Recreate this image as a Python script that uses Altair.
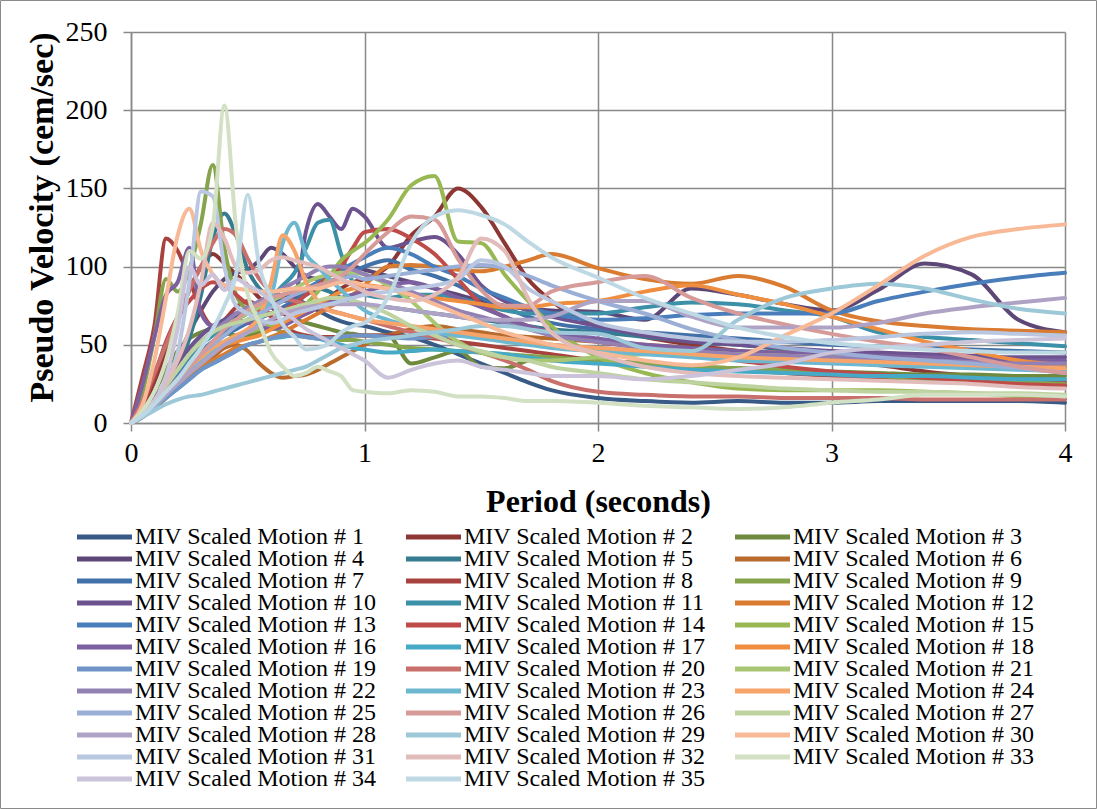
import altair as alt
import pandas as pd

# Spectral period grid (seconds) shared by every motion record
PERIODS = [0, .05, .1, .15, .2, .25, .3, .35, .4, .45,
           .5, .55, .6, .65, .7, .75, .8, .85, .9, .95,
           1.0, 1.1, 1.2, 1.3, 1.4, 1.5, 1.6, 1.7, 1.8, 2.0,
           2.2, 2.4, 2.6, 2.8, 3.0, 3.2, 3.4, 3.6, 3.8, 4.0]

# Pseudo velocity (cm/sec) of each scaled motion at the periods above
M01 = [0, 7, 16, 26, 36, 44, 52, 58, 63, 68, 72, 76, 80, 82, 80, 76, 72, 68, 65, 63,
       62, 58, 55, 50, 44, 38, 32, 26, 21, 16, 14, 13, 14, 13, 13, 14, 14, 14, 14, 13]
M02 = [0, 10, 26, 45, 65, 85, 100, 108, 102, 95, 88, 80, 74, 70, 68, 70, 74, 80, 86, 90,
       92, 100, 120, 132, 150, 138, 115, 92, 78, 62, 55, 50, 46, 43, 40, 37, 33, 30, 27, 24]
M03 = [0, 8, 20, 34, 46, 54, 58, 60, 58, 56, 56, 58, 62, 64, 66, 64, 62, 60, 58, 57,
       56, 56, 38, 42, 46, 36, 35, 40, 42, 40, 38, 36, 35, 34, 33, 32, 31, 31, 30, 30]
M04 = [0, 6, 14, 26, 42, 58, 72, 84, 92, 96, 98, 104, 112, 108, 100, 94, 92, 95, 98, 100,
       98, 94, 90, 86, 82, 78, 75, 73, 72, 71, 66, 86, 82, 76, 72, 85, 102, 95, 66, 58]
M05 = [0, 5, 12, 22, 36, 54, 82, 118, 134, 120, 98, 86, 80, 78, 80, 84, 86, 84, 80, 78,
       76, 74, 72, 70, 68, 66, 64, 62, 60, 58, 55, 52, 50, 47, 45, 43, 41, 39, 37, 36]
M06 = [0, 4, 10, 17, 24, 30, 36, 42, 48, 50, 46, 38, 32, 29, 30, 31, 34, 38, 42, 46,
       50, 56, 60, 62, 60, 58, 56, 55, 54, 52, 50, 48, 46, 45, 44, 42, 40, 38, 36, 35]
M07 = [0, 5, 12, 20, 28, 36, 44, 50, 56, 60, 64, 67, 70, 74, 78, 82, 86, 90, 94, 97,
       100, 104, 98, 94, 88, 80, 74, 68, 64, 60, 58, 56, 54, 52, 50, 49, 48, 47, 46, 45]
M08 = [0, 30, 62, 118, 110, 92, 72, 62, 66, 74, 78, 74, 68, 62, 58, 56, 55, 55, 55, 56,
       56, 56, 55, 54, 52, 50, 48, 46, 44, 40, 38, 36, 34, 32, 30, 29, 28, 27, 26, 26]
M09 = [0, 20, 55, 92, 84, 98, 128, 165, 112, 82, 72, 66, 62, 58, 56, 55, 54, 54, 53, 53,
       52, 50, 48, 47, 46, 45, 44, 43, 42, 40, 38, 36, 35, 34, 32, 30, 28, 27, 26, 25]
M10 = [0, 6, 15, 26, 38, 48, 56, 62, 66, 70, 72, 74, 76, 78, 80, 123, 140, 132, 124, 137,
       132, 112, 116, 119, 108, 88, 78, 72, 68, 62, 56, 52, 50, 48, 46, 45, 44, 43, 42, 42]
M11 = [0, 5, 12, 22, 32, 42, 50, 56, 62, 66, 70, 74, 80, 88, 96, 112, 128, 130, 108, 90,
       82, 80, 82, 82, 80, 76, 72, 70, 70, 70, 74, 77, 76, 72, 68, 58, 55, 53, 51, 49]
M12 = [0, 4, 10, 17, 24, 30, 36, 40, 44, 48, 50, 52, 55, 58, 62, 66, 70, 74, 78, 82,
       88, 100, 101, 100, 98, 97, 100, 104, 108, 99, 92, 89, 94, 87, 72, 65, 62, 60, 59, 58]
M13 = [0, 5, 12, 22, 30, 38, 46, 52, 58, 62, 66, 70, 74, 78, 82, 86, 90, 94, 98, 102,
       106, 112, 108, 100, 94, 86, 80, 74, 70, 66, 67, 69, 70, 70, 70, 78, 84, 89, 93, 96]
M14 = [0, 12, 30, 52, 68, 78, 86, 90, 88, 82, 76, 72, 70, 72, 76, 82, 88, 94, 100, 112,
       122, 124, 118, 108, 92, 76, 68, 62, 58, 52, 48, 44, 40, 36, 33, 31, 29, 27, 25, 24]
M15 = [0, 4, 10, 18, 26, 34, 42, 48, 52, 56, 58, 60, 62, 66, 70, 76, 84, 94, 104, 110,
       115, 130, 152, 158, 116, 115, 95, 78, 62, 42, 32, 26, 22, 21, 21, 21, 20, 19, 17, 16]
M16 = [0, 25, 55, 82, 90, 112, 70, 62, 64, 66, 64, 62, 60, 62, 66, 70, 74, 78, 80, 82,
       84, 88, 90, 86, 80, 74, 68, 62, 58, 54, 50, 48, 46, 45, 44, 43, 42, 41, 40, 40]
M17 = [0, 4, 9, 16, 22, 28, 34, 38, 42, 46, 50, 52, 54, 55, 56, 55, 54, 52, 50, 48,
       47, 45, 46, 47, 46, 45, 44, 42, 40, 38, 36, 34, 33, 32, 31, 30, 30, 29, 28, 28]
M18 = [0, 4, 9, 16, 24, 32, 40, 46, 50, 52, 54, 56, 60, 64, 68, 72, 76, 80, 84, 86,
       88, 86, 82, 80, 78, 76, 74, 74, 76, 78, 84, 88, 82, 76, 68, 60, 52, 46, 40, 37]
M19 = [0, 4, 10, 16, 22, 28, 34, 38, 42, 46, 50, 52, 54, 56, 56, 55, 54, 54, 55, 56,
       56, 55, 54, 55, 56, 55, 54, 52, 50, 48, 46, 44, 42, 41, 40, 39, 38, 37, 36, 35]
M20 = [0, 14, 32, 50, 68, 85, 100, 115, 124, 120, 105, 92, 84, 80, 78, 76, 74, 72, 70, 68,
       66, 62, 58, 55, 50, 45, 40, 34, 27, 20, 18, 17, 17, 16, 16, 16, 15, 15, 15, 15]
M21 = [0, 6, 14, 24, 34, 44, 52, 58, 62, 66, 70, 74, 78, 82, 86, 90, 93, 95, 96, 96,
       95, 88, 78, 64, 52, 45, 42, 40, 40, 42, 44, 45, 44, 43, 42, 41, 40, 38, 36, 34]
M22 = [0, 6, 14, 24, 34, 44, 52, 58, 64, 70, 74, 78, 82, 86, 90, 94, 98, 100, 100, 98,
       95, 90, 84, 78, 72, 68, 64, 60, 56, 52, 48, 46, 44, 43, 42, 41, 40, 39, 38, 38]
M23 = [0, 4, 10, 18, 26, 34, 40, 46, 50, 54, 58, 66, 80, 115, 128, 108, 100, 92, 85, 78,
       72, 66, 62, 58, 56, 54, 52, 50, 48, 46, 44, 42, 40, 39, 38, 37, 36, 35, 34, 33]
M24 = [0, 5, 12, 20, 28, 36, 42, 48, 52, 56, 60, 68, 90, 120, 110, 90, 78, 72, 70, 68,
       66, 64, 62, 60, 58, 56, 54, 52, 50, 48, 46, 44, 42, 41, 40, 39, 38, 37, 36, 35]
M25 = [0, 5, 12, 20, 28, 36, 44, 50, 56, 62, 66, 70, 74, 78, 82, 85, 88, 90, 92, 94,
       92, 94, 96, 98, 100, 101, 99, 94, 88, 78, 70, 60, 53, 48, 45, 42, 40, 38, 35, 32]
M26 = [0, 5, 12, 20, 28, 36, 44, 52, 60, 66, 72, 76, 80, 82, 84, 86, 88, 90, 94, 100,
       108, 122, 132, 130, 105, 85, 75, 75, 84, 90, 94, 80, 70, 63, 57, 52, 48, 42, 36, 32]
M27 = [0, 6, 14, 24, 34, 44, 52, 58, 62, 64, 66, 68, 70, 72, 74, 76, 78, 80, 80, 78,
       76, 70, 62, 56, 50, 46, 42, 40, 36, 32, 28, 26, 24, 22, 21, 20, 20, 19, 19, 18]
M28 = [0, 5, 11, 18, 25, 32, 38, 44, 50, 54, 58, 62, 66, 70, 72, 74, 75, 76, 76, 76,
       76, 74, 72, 70, 68, 66, 66, 66, 68, 78, 78, 68, 61, 61, 61, 64, 70, 74, 77, 80]
M29 = [0, 4, 8, 12, 15, 17, 18, 20, 22, 24, 26, 28, 30, 32, 34, 36, 40, 44, 48, 50,
       52, 54, 56, 58, 60, 62, 62, 60, 58, 57, 48, 46, 66, 80, 86, 89, 86, 79, 73, 70]
M30 = [0, 12, 40, 80, 120, 137, 110, 95, 88, 86, 85, 84, 84, 85, 86, 86, 86, 88, 90, 90,
       88, 86, 82, 76, 70, 64, 58, 54, 50, 45, 40, 37, 42, 56, 70, 88, 107, 119, 124, 127]
M31 = [0, 6, 14, 26, 45, 90, 148, 145, 100, 75, 70, 66, 64, 66, 70, 72, 74, 76, 78, 80,
       82, 84, 86, 88, 92, 104, 100, 86, 78, 64, 58, 54, 52, 52, 53, 55, 57, 58, 57, 56]
M32 = [0, 6, 14, 26, 40, 60, 90, 128, 118, 100, 96, 98, 104, 106, 104, 102, 100, 96, 92, 88,
       84, 80, 78, 82, 93, 118, 110, 80, 58, 44, 36, 32, 30, 29, 28, 27, 26, 25, 23, 22]
M33 = [0, 8, 20, 40, 70, 110, 105, 125, 203, 125, 82, 64, 45, 36, 30, 32, 36, 33, 30, 21,
       20, 19, 21, 20, 17, 17, 16, 14, 14, 13, 11, 10, 9, 10, 13, 15, 18, 18, 18, 17]
M34 = [0, 5, 14, 30, 60, 100, 88, 95, 85, 92, 88, 84, 78, 72, 66, 60, 56, 52, 48, 44,
       40, 29, 34, 38, 40, 36, 34, 32, 30, 30, 28, 30, 34, 38, 45, 48, 50, 52, 53, 54]
M35 = [0, 5, 12, 20, 28, 38, 48, 60, 75, 95, 146, 100, 80, 63, 55, 47, 48, 51, 58, 62,
       64, 80, 115, 132, 136, 133, 127, 116, 106, 93, 80, 70, 61, 55, 51, 49, 47, 46, 45, 45]

MOTIONS = [M01, M02, M03, M04, M05, M06, M07, M08, M09, M10, M11, M12,
           M13, M14, M15, M16, M17, M18, M19, M20, M21, M22, M23, M24,
           M25, M26, M27, M28, M29, M30, M31, M32, M33, M34, M35]

NAMES = [f"MIV Scaled Motion # {i}" for i in range(1, len(MOTIONS) + 1)]

COLORS = ["#385A86", "#8C3734", "#6F8A3E", "#5C4776", "#367C90", "#B86B2C",
          "#4270A8", "#A8423F", "#86A44C", "#6C538F", "#3C90A8", "#D97B31",
          "#4A7EBB", "#BE4B48", "#98B854", "#7D60A0", "#46A9C6", "#F08E40",
          "#7094C8", "#C9706D", "#A9C674", "#9481B4", "#6DB8D0", "#F7A46A",
          "#9AAED6", "#D69A98", "#BFD3A0", "#AFA3C5", "#9DC8D8", "#F7B996",
          "#BAC7E1", "#E2BCBB", "#D2E0C4", "#CBC3DA", "#BED9E4"]

GRID = "#898989"
FONT = "Liberation Serif"

rows = []
for name, values in zip(NAMES, MOTIONS):
    assert len(values) == len(PERIODS)
    for t, v in zip(PERIODS, values):
        rows.append({"motion": name, "period": t, "velocity": v})
df = pd.DataFrame(rows)

lines = alt.Chart(df).mark_line(
    interpolate="monotone", strokeWidth=4, strokeCap="round", strokeJoin="round"
).encode(
    x=alt.X("period:Q",
            scale=alt.Scale(domain=[0, 4], nice=False),
            axis=alt.Axis(title="Period (seconds)", values=[0, 1, 2, 3, 4],
                          format="d", labelPadding=8, titlePadding=19,
                          labelFlush=False)),
    y=alt.Y("velocity:Q",
            scale=alt.Scale(domain=[0, 250], nice=False),
            axis=alt.Axis(title="Pseudo Velocity (cem/sec)",
                          values=[0, 50, 100, 150, 200, 250],
                          labelPadding=16, titlePadding=6, labelFlush=False,
                          titleFontSize=34, titleY=185)),
    color=alt.Color("motion:N",
                    scale=alt.Scale(domain=NAMES, range=COLORS),
                    legend=alt.Legend(
                        orient="none", legendX=-54, legendY=495, columns=3,
                        direction="horizontal", symbolLimit=0,
                        title=None, padding=0,
                        symbolType="M-5.6,0H5.6", symbolSize=100,
                        symbolStrokeWidth=5, symbolOffset=15,
                        labelOffset=19, labelFont=FONT, labelFontSize=24,
                        labelColor="black", labelLimit=400,
                        columnPadding=29, rowPadding=-3, clipHeight=20)),
)

# thin grey frame around the whole figure
frame = alt.Chart(pd.DataFrame({"frame": [0]})).mark_rect(
    fill="transparent", stroke="#8a8a8a", strokeWidth=1
).encode(
    x=alt.value(-130.5), x2=alt.value(965.5),
    y=alt.value(-31.5), y2=alt.value(776.5),
)

chart = alt.layer(frame, lines).properties(
    width=934, height=391,
    padding={"left": 131, "top": 32, "right": 32, "bottom": 386},
    autosize=alt.AutoSizeParams(type="none"),
    background="white",
).configure_view(
    stroke=None
).configure_axis(
    grid=True, gridColor=GRID, gridWidth=1.5, gridOpacity=1,
    domainColor=GRID, domainWidth=1.5, tickColor=GRID, tickWidth=1.5, tickSize=8,
    labelFont=FONT, labelFontSize=28, labelColor="black",
    titleFont=FONT, titleFontSize=32, titleFontWeight="bold", titleColor="black",
)

chart.save("out.html", embed_options={"renderer": "svg", "actions": False})
